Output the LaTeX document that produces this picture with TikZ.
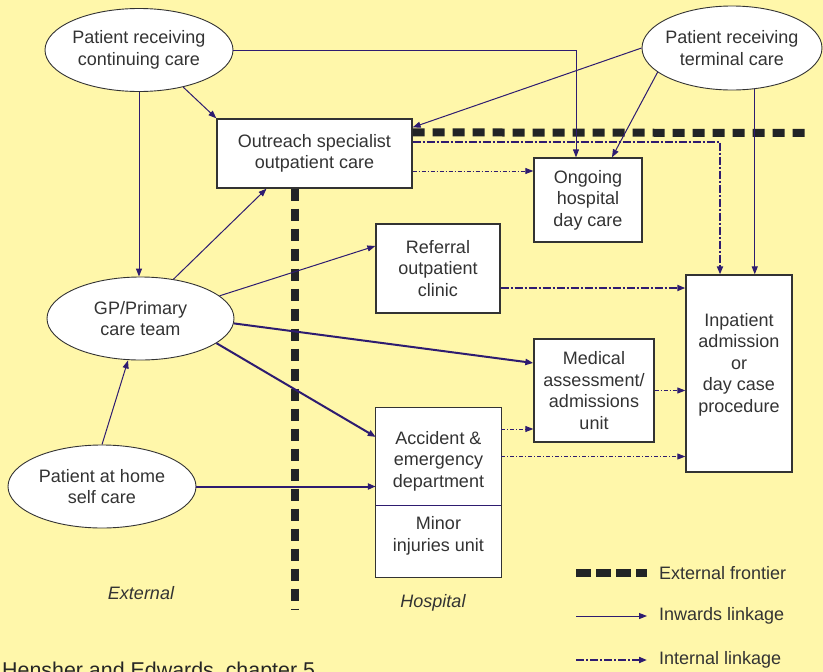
\documentclass[tikz,border=0pt]{standalone}
\usepackage{fontspec}
\setmainfont{Liberation Sans}
\usetikzlibrary{arrows.meta,shapes.geometric}
\definecolor{bgc}{RGB}{255,247,170}
\definecolor{linkc}{RGB}{46,28,112}
\definecolor{frontc}{RGB}{34,36,38}
\definecolor{txtc}{RGB}{51,51,51}
\begin{document}
\begin{tikzpicture}[x=1pt,y=-1pt,
 txt/.style={font=\fontsize{18}{21.5}\selectfont, text=txtc, align=center},
 oval/.style={txt, ellipse, draw=txtc, line width=0.9pt, fill=white, inner sep=-4pt},
 box/.style={txt, rectangle, draw=txtc, line width=1.3pt, fill=white, inner sep=2pt},
 inw/.style={draw=linkc, line width=1pt, -{Triangle[length=8pt,width=6pt]}},
 inwthick/.style={inw, line width=2pt},
 intl/.style={draw=linkc, line width=1pt, dash pattern=on 4pt off 2pt on 1pt off 2pt, -{Triangle[length=8pt,width=6pt]}},
 intlthick/.style={intl, line width=1.8pt, dash pattern=on 8pt off 2pt on 2pt off 2pt},
 frontier/.style={draw=frontc, line width=8pt, dash pattern=on 12pt off 8pt},
 lbl/.style={font=\fontsize{18}{21.5}\selectfont, text=txtc, inner sep=0pt}
]
\fill[bgc] (0,0) rectangle (823,672);
\useasboundingbox (0,0) rectangle (823,672);

% nodes
\node[oval, minimum width=188pt, minimum height=83pt] (cc) at (139,50) {Patient receiving\\continuing care};
\node[oval, minimum width=180pt, minimum height=84pt] (tc) at (732,48) {Patient receiving\\terminal care};
\node[oval, minimum width=187pt, minimum height=83pt] (gp) at (140.5,318.5) {GP/Primary\\care team};
\node[oval, minimum width=188pt, minimum height=83pt] (hm) at (102,486.5) {Patient at home\\self care};

\node[box, minimum width=195pt, minimum height=69pt] (oc) at (314.5,153.5) {Outreach specialist\\outpatient care};
\node[box, minimum width=108pt, minimum height=84pt] (og) at (588,200) {Ongoing\\hospital\\day care};
\node[box, minimum width=124pt, minimum height=89pt] (rc) at (438,268.5) {Referral\\outpatient\\clinic};
\node[box, minimum width=120pt, minimum height=103pt] (ma) at (594,390.5) {Medical\\assessment/\\admissions\\unit};
\node[box, minimum width=106pt, minimum height=197pt] (ip) at (739,373.5) {};
\node[txt] (ipt) at (739,364.5) {Inpatient\\admission\\or\\day case\\procedure};

\node[minimum width=125pt, minimum height=97pt, inner sep=0pt] (ae) at (438.5,456.5) {};
\node[minimum width=125pt, minimum height=72pt, inner sep=0pt] (miu) at (438.5,541) {};
\draw[draw=txtc, line width=1.3pt, fill=white] (ae.north west) rectangle (miu.south east);
\draw[draw=linkc, line width=0.9pt] (ae.south west) -- (ae.south east);
\node[txt] (aet) at (438.5,461) {Accident \&\\emergency\\department};
\node[txt] (miut) at (438.5,536) {Minor\\injuries unit};

% external frontier
\coordinate (fe) at (807,133);
\coordinate (fs) at (295,609);
\draw[frontier] ([yshift=-14pt]oc.north east) -- (fe);
\draw[frontier] ([xshift=-19.5pt]oc.south) -- (fs);

% inwards linkages
\draw[inw] (cc.east) -| ([xshift=-12pt]og.north);
\draw[inw] (cc.-40) -- (oc.north west);
\draw[inw] (cc.south) -- (cc.south |- gp.north);
\draw[inw] (tc.west) -- ([yshift=-9pt]oc.north east);
\draw[inw] (tc.-162) -- ([xshift=24pt]og.north);
\draw[inw] (tc.-61.6) -- (tc.-61.6 |- ip.north);
\draw[inw] (gp.50) -- ([xshift=-48pt]oc.south);
\draw[inw] (gp.16) -- ([yshift=22.5pt]rc.west);
\draw[inwthick] (gp.-3) -- ([yshift=27.5pt]ma.west);
\draw[inwthick] (gp.-18) -- ([yshift=19.5pt]ae.west);
\draw[inw] (hm.north) -- ([xshift=-12.5pt]gp.south);
\draw[inwthick] (hm.east) -- (hm.east -| ae.west);

% internal linkages
\draw[intl] ([yshift=-17.5pt]oc.east) -- ([yshift=-17.5pt]oc.east -| og.west);
\draw[intlthick] ([yshift=11.5pt]oc.east) -| ([xshift=-19pt]ip.north);
\draw[intlthick] ([yshift=-19.5pt]rc.east) -- ([yshift=-19.5pt]rc.east -| ip.west);
\draw[intl] (ma.east) -- (ma.east -| ip.west);
\draw[intl] ([yshift=27.5pt]ae.east) -- ([yshift=27.5pt]ae.east -| ma.west);
\draw[intl] (ae.east) -- (ae.east -| ip.west);

% region labels
\node[lbl, font=\fontsize{18}{21.5}\selectfont\itshape] (ext) at (141,593) {External};
\node[lbl, font=\fontsize{18}{21.5}\selectfont\itshape] (hosp) at (433,603) {Hospital};

% legend
\coordinate (la1) at (576,573); \coordinate (lb1) at (647,573);
\coordinate (la2) at (576,616); \coordinate (lb2) at (647,616);
\coordinate (la3) at (576,660); \coordinate (lb3) at (647,660);
\draw[draw=frontc, line width=8pt, dash pattern=on 15pt off 5pt] (la1) -- (lb1);
\draw[inw] (la2) -- (lb2);
\draw[intlthick] (la3) -- (lb3);
\node[lbl, anchor=west] (lt1) at (659,573) {External frontier};
\node[lbl, anchor=west] (lt2) at (659,616) {Inwards linkage};
\node[lbl, anchor=west] (lt3) at (659,660) {Internal linkage};

% source
\node[anchor=base west, inner sep=0pt, font=\fontsize{21.4}{24}\selectfont, text=black!85] (src) at (2,677) {Hensher and Edwards, chapter 5};
\end{tikzpicture}
\end{document}
